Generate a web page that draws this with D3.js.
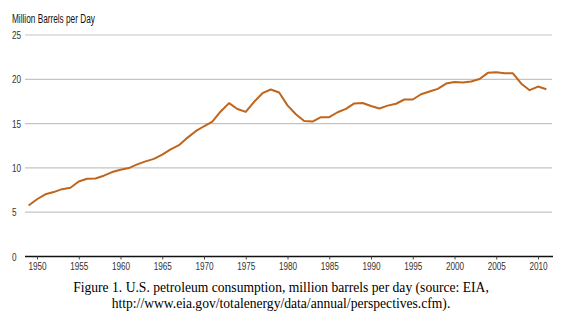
<!DOCTYPE html>
<html>
<head>
<meta charset="utf-8">
<script src="https://cdn.jsdelivr.net/npm/d3@7"></script>
<style>
  body { margin: 0; background: #fff; }
  svg { display: block; }
</style>
</head>
<body>
<div id="chart"></div>
<script>
// U.S. petroleum consumption, million barrels per day (EIA)
var years = d3.range(1949, 2012);
var consumption = [5.76, 6.46, 7.02, 7.27, 7.60, 7.76, 8.46, 8.78, 8.81, 9.12,
                   9.53, 9.80, 9.98, 10.40, 10.74, 11.02, 11.51, 12.08, 12.56, 13.39,
                   14.14, 14.70, 15.21, 16.37, 17.31, 16.65, 16.32, 17.46, 18.43, 18.85,
                   18.51, 17.06, 16.06, 15.30, 15.23, 15.73, 15.73, 16.28, 16.67, 17.28,
                   17.33, 16.99, 16.71, 17.03, 17.24, 17.72, 17.72, 18.31, 18.62, 18.92,
                   19.52, 19.70, 19.65, 19.76, 20.03, 20.73, 20.80, 20.69, 20.68, 19.50,
                   18.77, 19.18, 18.88];
var yTicks = [0, 5, 10, 15, 20, 25];
var xTicks = [1950, 1955, 1960, 1965, 1970, 1975, 1980, 1985, 1990, 1995, 2000, 2005, 2010];
var yTitle = "Million Barrels per Day";
var caption = ["Figure 1. U.S. petroleum consumption, million barrels per day (source: EIA,",
               "http://www.eia.gov/totalenergy/data/annual/perspectives.cfm)."];

var width = 563, height = 325;
var sans = "'Liberation Sans', Arial, sans-serif";
var squeeze = 0.78;   // the original uses a condensed face

var svg = d3.select("#chart").append("svg")
    .attr("width", width)
    .attr("height", height);

var x = d3.scaleLinear().domain([1950, 2010]).range([37, 538]);
var y = d3.scaleLinear().domain([0, 25]).range([256.5, 35]);

// gridlines
svg.append("g")
  .selectAll("line")
  .data(yTicks.filter(function(d) { return d > 0; }))
  .enter().append("line")
    .attr("x1", 25).attr("x2", 552)
    .attr("y1", function(d) { return y(d); })
    .attr("y2", function(d) { return y(d); })
    .attr("stroke", "#c4c4c4")
    .attr("stroke-width", 1.2);

// y labels
svg.append("g")
  .selectAll("text")
  .data(yTicks)
  .enter().append("text")
    .attr("transform", function(d) { return "translate(12," + (y(d) + 4) + ") scale(" + squeeze + ",1)"; })
    .style("font-family", sans)
    .style("font-size", "10.5px")
    .style("fill", "#333")
    .text(function(d) { return d; });

// x axis
var xAxis = svg.append("g")
    .attr("transform", "translate(0," + y(0) + ")")
    .call(d3.axisBottom(x).tickValues(xTicks).tickFormat(d3.format("d")).tickSize(3).tickPadding(3));
xAxis.select(".domain").attr("d", "M25,0H553").attr("stroke", "#111").attr("stroke-width", 1.3);
xAxis.selectAll(".tick line").attr("stroke", "#444");
xAxis.selectAll("text")
    .attr("transform", "scale(" + squeeze + ",1)")
    .style("font-family", sans)
    .style("font-size", "10.5px")
    .style("fill", "#333");

// title
svg.append("text")
    .attr("transform", "translate(12,23) scale(0.66,1)")
    .style("font-family", sans)
    .style("font-size", "12.5px")
    .style("fill", "#111")
    .text(yTitle);

// line
var line = d3.line()
    .x(function(d, i) { return x(years[i]); })
    .y(function(d) { return y(d); });

svg.append("path")
    .datum(consumption)
    .attr("fill", "none")
    .attr("stroke", "#c0651c")
    .attr("stroke-width", 2)
    .attr("stroke-linejoin", "round")
    .attr("d", line);

// caption
svg.append("g")
  .selectAll("text")
  .data(caption)
  .enter().append("text")
    .attr("x", 281)
    .attr("y", function(d, i) { return 292 + i * 16; })
    .attr("text-anchor", "middle")
    .style("font-family", "'Liberation Serif', 'Times New Roman', serif")
    .style("font-size", "13.6px")
    .style("fill", "#000")
    .text(function(d) { return d; });
</script>
</body>
</html>
